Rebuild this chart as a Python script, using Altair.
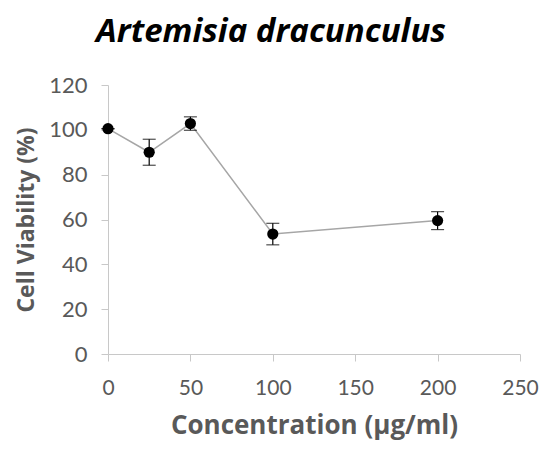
import altair as alt
import pandas as pd

conc = [0, 25, 50, 100, 200]
viability = [100.5, 90.0, 102.8, 53.5, 59.5]
err = [0.0, 5.8, 3.0, 4.8, 4.0]

df = pd.DataFrame({"conc": conc, "v": viability, "err": err})
df["lo"] = df["v"] - df["err"]
df["hi"] = df["v"] + df["err"]

xs = alt.Scale(domain=[0, 250], nice=False)
ys = alt.Scale(domain=[0, 120], nice=False)

x_axis = alt.Axis(values=[0, 50, 100, 150, 200, 250], title="Concentration (μg/ml)",
                  grid=False, domainColor="#c8c8c8", tickColor="#c8c8c8", tickSize=7,
                  labelFlush=False,
                  labelFont="Lato", labelFontSize=21, labelColor="#595959", labelPadding=16,
                  titleFont="Open Sans", titleFontSize=26, titleFontWeight="bold",
                  titleColor="#595959", titlePadding=14)
y_axis = alt.Axis(values=[0, 20, 40, 60, 80, 100, 120], title="Cell Viability (%)",
                  grid=False, domainColor="#c8c8c8", tickColor="#c8c8c8", tickSize=7,
                  labelFlush=False,
                  labelFont="Lato", labelFontSize=22, labelColor="#595959", labelPadding=14,
                  titleFont="Open Sans", titleFontSize=23, titleFontWeight="bold",
                  titleColor="#595959", titlePadding=10)

base = alt.Chart(df)

line = base.mark_line(color="#a6a6a6", strokeWidth=1.5).encode(
    x=alt.X("conc:Q", scale=xs, axis=x_axis),
    y=alt.Y("v:Q", scale=ys, axis=y_axis),
)
bars = base.mark_rule(color="#000000", strokeWidth=1.2).encode(
    x="conc:Q", y="lo:Q", y2="hi:Q"
)
cap_lo = base.mark_tick(color="#000000", orient="horizontal", size=13, thickness=1.2).encode(
    x="conc:Q", y="lo:Q"
)
cap_hi = base.mark_tick(color="#000000", orient="horizontal", size=13, thickness=1.2).encode(
    x="conc:Q", y="hi:Q"
)
pts = base.mark_point(filled=True, color="#000000", size=125, opacity=1).encode(
    x="conc:Q", y="v:Q"
)

chart = alt.layer(line, bars, cap_lo, cap_hi, pts).properties(
    width=412, height=269,
    title=alt.TitleParams("Artemisia dracunculus", font="Open Sans", fontSize=33,
                          fontWeight="bold", fontStyle="italic", color="#000000",
                          anchor="middle", frame="group", dx=-43, offset=25),
    autosize=alt.AutoSizeParams(type="none"),
    padding={"left": 100, "top": 77, "right": 19, "bottom": 86},
).configure_view(stroke=None)

chart.save("out.html", embed_options={"renderer": "svg", "actions": False})
